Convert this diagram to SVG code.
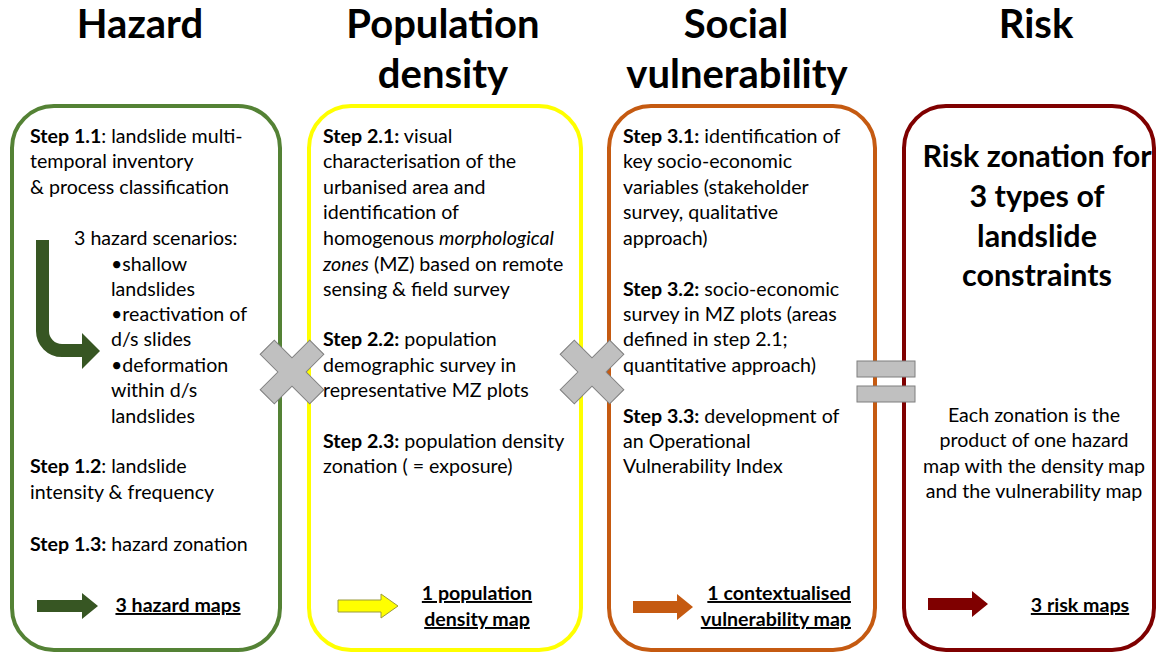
<svg xmlns="http://www.w3.org/2000/svg" width="1157" height="656" viewBox="0 0 1157 656">
  <style>
    .h { font-family: Lato, "Open Sans", "Liberation Sans", sans-serif; font-weight: bold; font-size: 40px; fill: #000; text-anchor: middle; }
    .t { font-family: Lato, "Open Sans", "Liberation Sans", sans-serif; font-size: 19.6px; fill: #000; }
    .b { font-weight: bold; }
    .i { font-style: italic; }
    .u { font-weight: bold; text-decoration: underline; }
    .rt { font-family: Lato, "Open Sans", "Liberation Sans", sans-serif; font-weight: bold; font-size: 30.5px; fill: #000; text-anchor: middle; }
    .box { fill: #fff; stroke-width: 4; }
    .op { fill: #c0c0c0; stroke: #7f7f7f; stroke-width: 1; }
  </style>
  <rect width="1157" height="656" fill="#fff"/>

  <!-- column headings -->
  <g id="headings">
    <text class="h" x="140" y="38">Hazard</text>
    <text class="h" x="443" y="38">Population</text>
    <text class="h" x="443" y="88">density</text>
    <text class="h" x="736" y="38">Social</text>
    <text class="h" x="737" y="88">vulnerability</text>
    <text class="h" x="1036" y="38">Risk</text>
  </g>

  <!-- Hazard column -->
  <g id="hazard">
    <rect class="box" x="12" y="106" width="268" height="544" rx="42" stroke="#548235"/>
    <text class="t" x="30" y="143"><tspan class="b">Step 1.1</tspan>: landslide multi-</text>
    <text class="t" x="30" y="168">temporal inventory</text>
    <text class="t" x="30" y="194">&amp; process classification</text>
    <path d="M42.5 240 V331 A19.5 19.5 0 0 0 62 350.5 H84" fill="none" stroke="#375623" stroke-width="13"/>
    <polygon points="82,333 100,351 82,369" fill="#375623"/>
    <text class="t" x="74" y="245">3 hazard scenarios:</text>
    <text class="t" x="111" y="271">•shallow</text>
    <text class="t" x="111" y="296">landslides</text>
    <text class="t" x="111" y="321">•reactivation of</text>
    <text class="t" x="111" y="346">d/s slides</text>
    <text class="t" x="111" y="372">•deformation</text>
    <text class="t" x="111" y="397">within d/s</text>
    <text class="t" x="111" y="423">landslides</text>
    <text class="t" x="30" y="473"><tspan class="b">Step 1.2</tspan>: landslide</text>
    <text class="t" x="30" y="499">intensity &amp; frequency</text>
    <text class="t" x="30" y="551"><tspan class="b">Step 1.3:</tspan> hazard zonation</text>
    <polygon points="37,600 82,600 82,593 98,606 82,619 82,612 37,612" fill="#375623"/>
    <text class="t u" x="178" y="612" text-anchor="middle">3 hazard maps</text>
  </g>

  <!-- Population density column -->
  <g id="population">
    <rect class="box" x="309" y="106" width="272" height="544" rx="42" stroke="#ffff00"/>
    <text class="t" x="323" y="143"><tspan class="b">Step 2.1:</tspan> visual</text>
    <text class="t" x="323" y="168">characterisation of the</text>
    <text class="t" x="323" y="194">urbanised area and</text>
    <text class="t" x="323" y="219">identification of</text>
    <text class="t" x="323" y="245">homogenous <tspan class="i">morphological</tspan></text>
    <text class="t" x="323" y="271"><tspan class="i">zones</tspan> (MZ) based on remote</text>
    <text class="t" x="323" y="296">sensing &amp; field survey</text>
    <text class="t" x="323" y="346"><tspan class="b">Step 2.2:</tspan> population</text>
    <text class="t" x="323" y="372">demographic survey in</text>
    <text class="t" x="323" y="397">representative MZ plots</text>
    <text class="t" x="323" y="448"><tspan class="b">Step 2.3:</tspan> population density</text>
    <text class="t" x="323" y="473">zonation ( = exposure)</text>
    <polygon points="338,600 381,600 381,594 398,606 381,618 381,612 338,612" fill="#ffff00" stroke="#9b9b3a" stroke-width="1"/>
    <text class="t u" x="477" y="600" text-anchor="middle">1 population</text>
    <text class="t u" x="477" y="626" text-anchor="middle">density map</text>
  </g>

  <!-- Social vulnerability column -->
  <g id="vulnerability">
    <rect class="box" x="609" y="106" width="266" height="544" rx="42" stroke="#c55a11"/>
    <text class="t" x="623" y="143"><tspan class="b">Step 3.1:</tspan> identification of</text>
    <text class="t" x="623" y="168">key socio-economic</text>
    <text class="t" x="623" y="194">variables (stakeholder</text>
    <text class="t" x="623" y="219">survey, qualitative</text>
    <text class="t" x="623" y="245">approach)</text>
    <text class="t" x="623" y="296"><tspan class="b">Step 3.2:</tspan> socio-economic</text>
    <text class="t" x="623" y="321">survey in MZ plots (areas</text>
    <text class="t" x="623" y="346">defined in step 2.1;</text>
    <text class="t" x="623" y="372">quantitative approach)</text>
    <text class="t" x="623" y="423"><tspan class="b">Step 3.3:</tspan> development of</text>
    <text class="t" x="623" y="448">an Operational</text>
    <text class="t" x="623" y="473">Vulnerability Index</text>
    <polygon points="633,601 677,601 677,594 693,607 677,620 677,613 633,613" fill="#c55a11"/>
    <text class="t u" x="851" y="600" text-anchor="end">1 contextualised</text>
    <text class="t u" x="851" y="626" text-anchor="end">vulnerability map</text>
  </g>

  <!-- Risk column -->
  <g id="risk">
    <rect class="box" x="904" y="106" width="250" height="544" rx="42" stroke="#7f0000"/>
    <text class="rt" x="1037" y="167">Risk zonation for</text>
    <text class="rt" x="1037" y="207">3 types of</text>
    <text class="rt" x="1037" y="247">landslide</text>
    <text class="rt" x="1037" y="286">constraints</text>
    <text class="t" x="1034" y="422" text-anchor="middle">Each zonation is the</text>
    <text class="t" x="1034" y="447" text-anchor="middle">product of one hazard</text>
    <text class="t" x="1034" y="473" text-anchor="middle">map with the density map</text>
    <text class="t" x="1034" y="498" text-anchor="middle">and the vulnerability map</text>
    <polygon points="928,598 972,598 972,591 988,604 972,617 972,610 928,610" fill="#7f0000"/>
    <text class="t u" x="1080" y="612" text-anchor="middle">3 risk maps</text>
  </g>

  <!-- operators linking the columns -->
  <g id="connectors">
    <polygon class="op" transform="translate(292 372) rotate(45)" points="-10,-35 10,-35 10,-10 35,-10 35,10 10,10 10,35 -10,35 -10,10 -35,10 -35,-10 -10,-10"/>
    <polygon class="op" transform="translate(592 372) rotate(45)" points="-10,-35 10,-35 10,-10 35,-10 35,10 10,10 10,35 -10,35 -10,10 -35,10 -35,-10 -10,-10"/>
    <rect class="op" x="857" y="361" width="58" height="16"/>
    <rect class="op" x="857" y="386" width="58" height="16"/>
  </g>
</svg>
